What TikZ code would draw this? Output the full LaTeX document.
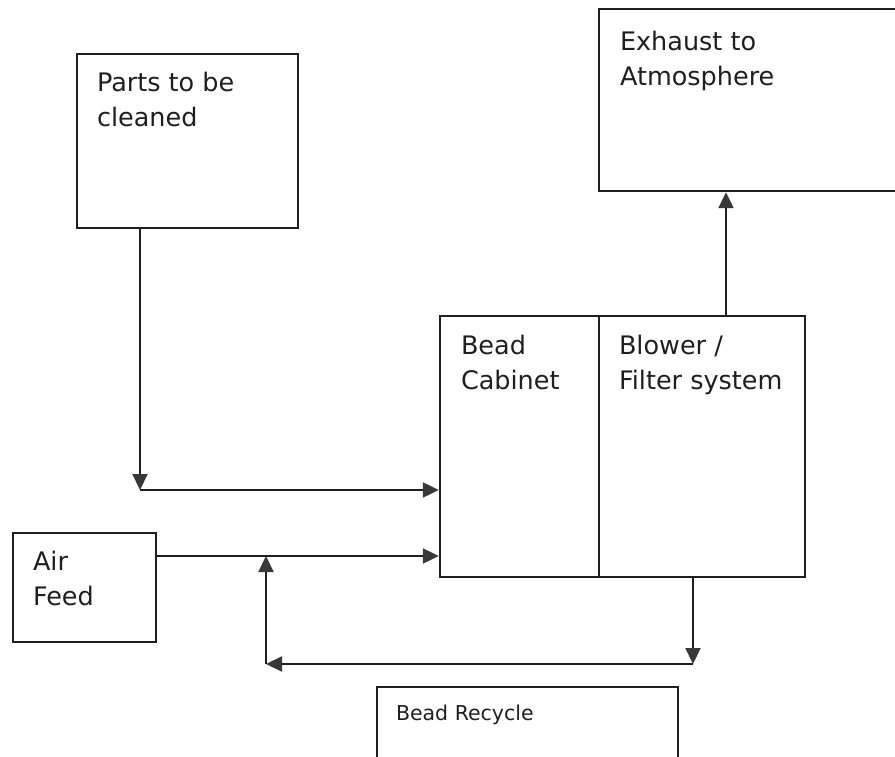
\documentclass[tikz,border=0pt]{standalone}
\usepackage{fontspec}
\setmainfont{DejaVu Sans}
\usetikzlibrary{arrows.meta}

\begin{document}
\begin{tikzpicture}[x=1pt,y=-1pt]
        \tikzstyle{box}=[draw=black!88,line width=2.4pt,inner sep=0pt]
        \tikzstyle{boxtext}=[anchor=north west,inner sep=0pt,align=left,text=black!88,font=\fontsize{25.5}{35}\selectfont]
        \tikzstyle{flow}=[draw=black!88,line width=2.2pt,-{Triangle[length=16pt,width=15pt,color=black!78]}]
        \clip (0,0) rectangle (895,757);
        \begin{scope}
                \node [box,minimum width=221pt,minimum height=174pt] (parts) at (187.5,141) {};
                \node [box,minimum width=306pt,minimum height=182pt] (exhaust) at (752,100) {};
                \node [box,minimum width=159pt,minimum height=261pt] (cabinet) at (519.5,446.5) {};
                \node [box,minimum width=206pt,minimum height=261pt] (blower) at (702,446.5) {};
                \node [box,minimum width=143pt,minimum height=109pt] (air) at (84.5,587.5) {};
                \node [box,minimum width=301pt,minimum height=103pt] (recycle) at (527.5,738.5) {};
                % texts
                \node [boxtext] (tparts) at ([shift={(21,19)}]parts.north west) {Parts to be\\cleaned};
                \node [boxtext] (texhaust) at ([shift={(22,23)}]exhaust.north west) {Exhaust to\\Atmosphere};
                \node [boxtext] (tcabinet) at ([shift={(22,20)}]cabinet.north west) {Bead\\Cabinet};
                \node [boxtext] (tblower) at ([shift={(21,20)}]blower.north west) {Blower /\\Filter system};
                \node [boxtext] (tair) at ([shift={(21,19)}]air.north west) {Air\\Feed};
                \node [boxtext,font=\fontsize{20.5}{28}\selectfont] (trecycle) at ([shift={(20,19)}]recycle.north west) {Bead Recycle};
                % bends
                \coordinate (pbend) at (140,490);
                \coordinate (ajoin) at (266,556);
                \coordinate (rdown) at (693,664);
                \coordinate (rleft) at (266,664);
                \coordinate (exup) at (726,0);
                \path[flow] (parts.south -| pbend) -- (pbend);
                \path[flow] (pbend) -- (pbend -| cabinet.west);
                \path[flow] (air.east |- ajoin) -- (ajoin -| cabinet.west);
                \path[flow] (blower.north -| exup) -- (exhaust.south -| exup);
                \path[flow] (blower.south -| rdown) -- (rdown);
                \path[flow] (rdown) -- (rleft);
                \path[flow] (rleft) -- (ajoin);
        \end{scope}
\end{tikzpicture}
\end{document}
